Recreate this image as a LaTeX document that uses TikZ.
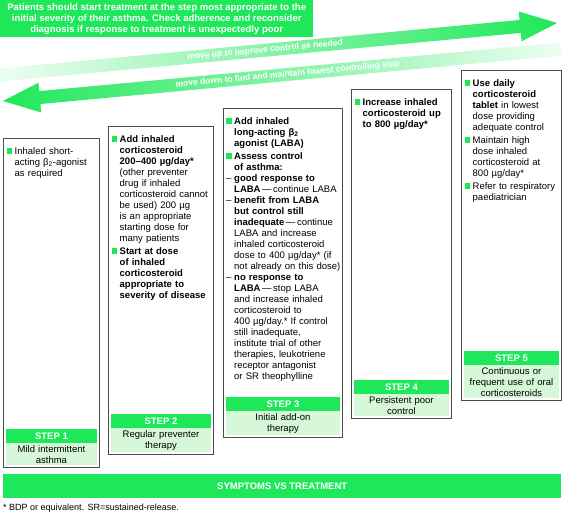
\documentclass[tikz,border=0pt]{standalone}
\usepackage{fontspec}
\setmainfont{Liberation Sans}
\usetikzlibrary{calc}
\definecolor{stepgreen}{RGB}{30,232,90}
\definecolor{palegreen}{RGB}{214,248,216}
\newcommand\bul{\par\noindent\hangindent=8pt\hangafter=1\makebox[8pt][l]{\textcolor{stepgreen}{\rule[0.3pt]{5.5pt}{5.5pt}}}\ignorespaces}
\newcommand\dsh{\par\noindent\hangindent=8pt\hangafter=1\makebox[8pt][l]{–}\ignorespaces}
\newcommand\gap{\par\vspace{2pt}}
\begin{document}
\begin{tikzpicture}[x=1pt,y=-1pt,
stepframe/.style={draw=black!70,line width=0.9pt,anchor=north west,inner sep=0},
steptext/.style={anchor=north west,inner sep=0,align=left,font=\fontsize{9.5}{11}\selectfont},
stepnote/.style={fill=palegreen,anchor=south,inner xsep=0,inner ysep=2pt,align=center,font=\fontsize{9.5}{11}\selectfont},
stepbar/.style={fill=stepgreen,anchor=south,inner sep=0,minimum height=13.5,text=white,font=\fontsize{9.5}{11}\selectfont\bfseries},
arrowtext/.style={inner sep=0,rotate=5.3,text=white,font=\fontsize{8.5}{10}\selectfont\bfseries}]
\useasboundingbox(0,0)rectangle(564,515);
\node[fill=stepgreen,text=white,anchor=north west,minimum width=313,minimum height=37,inner sep=0,align=center,font=\fontsize{9.5}{11}\selectfont\bfseries](A)at(0,0){Patients should start treatment at the step most appropriate to the\\initial severity of their asthma. Check adherence and reconsider\\diagnosis if response to treatment is unexpectedly poor};
\coordinate(Ut)at(0,75);
\coordinate(Uh)at(557,23);
\coordinate(Ub)at($(Uh)!37pt!(Ut)$);
\shade[left color=stepgreen!8,middle color=stepgreen,right color=stepgreen]($(Ut)!6.5pt!90:(Uh)$)--($(Ub)!6.5pt!90:(Uh)$)--($(Ub)!15pt!90:(Uh)$)--(Uh)--($(Ub)!15pt!-90:(Uh)$)--($(Ub)!6.5pt!-90:(Uh)$)--($(Ut)!6.5pt!-90:(Uh)$)--cycle;
\coordinate(Dt)at(561,49);
\coordinate(Dh)at(3,101);
\coordinate(Db)at($(Dh)!37pt!(Dt)$);
\shade[left color=stepgreen,middle color=stepgreen,right color=stepgreen!8]($(Dt)!6.5pt!-90:(Db)$)--($(Db)!6.5pt!90:(Dt)$)--($(Db)!15pt!90:(Dt)$)--(Dh)--($(Db)!15pt!-90:(Dt)$)--($(Db)!6.5pt!-90:(Dt)$)--($(Dt)!6.5pt!90:(Db)$)--cycle;
\node[arrowtext](U)at($(Ut)!0.476!(Uh)$){move up to improve control as needed};
\node[arrowtext](D)at($(Dh)!0.51!(Dt)$){move down to find and maintain lowest controlling step};
\node[stepframe,minimum width=96,minimum height=329](F1)at(3,138){};
\node[stepframe,minimum width=105,minimum height=328](F2)at(108,126){};
\node[stepframe,minimum width=119,minimum height=329](F3)at(223,108){};
\node[stepframe,minimum width=100,minimum height=329](F4)at(351,89){};
\node[stepframe,minimum width=100,minimum height=330](F5)at(461,70){};
\node[stepnote,text width=91](L1)at([yshift=2.5pt]F1.south){Mild intermittent\\asthma};
\node[stepnote,text width=100](L2)at([yshift=2.5pt]F2.south){Regular preventer\\therapy};
\node[stepnote,text width=114](L3)at([yshift=2.5pt]F3.south){Initial add-on\\therapy};
\node[stepnote,text width=95](L4)at([yshift=2.5pt]F4.south){Persistent poor\\control};
\node[stepnote,text width=95](L5)at([yshift=2.5pt]F5.south){Continuous or\\frequent use of oral\\corticosteroids};
\node[stepbar,minimum width=91](S1)at(L1.north){STEP 1};
\node[stepbar,minimum width=100](S2)at(L2.north){STEP 2};
\node[stepbar,minimum width=114](S3)at(L3.north){STEP 3};
\node[stepbar,minimum width=95](S4)at(L4.north){STEP 4};
\node[stepbar,minimum width=95](S5)at(L5.north){STEP 5};
\node[steptext,text width=90](T1)at([shift={(3.5,5)}]F1.north west){\bul Inhaled short-\newline acting β\textsubscript{2}-agonist\newline as required\par};
\node[steptext,text width=100](T2)at([shift={(3.5,5)}]F2.north west){\bul\textbf{Add inhaled\newline corticosteroid\newline 200–400 µg/day*}\newline (other preventer\newline drug if inhaled\newline corticosteroid cannot\newline be used) 200 µg\newline is an appropriate\newline starting dose for\newline many patients\gap
\bul\textbf{Start at dose\newline of inhaled\newline corticosteroid\newline appropriate to\newline severity of disease}\par};
\node[steptext,text width=115](T3)at([shift={(3,5)}]F3.north west){\bul\textbf{Add inhaled\newline long-acting β\textsubscript{2}\newline agonist (LABA)}\gap
\bul\textbf{Assess control\newline of asthma:}
\dsh\textbf{good response to\newline LABA}\,—\,continue LABA
\dsh\textbf{benefit from LABA\newline but control still\newline inadequate}\,—\,continue\newline LABA and increase\newline inhaled corticosteroid\newline dose to 400 µg/day* (if\newline not already on this dose)
\dsh\textbf{no response to\newline LABA}\,—\,stop LABA\newline and increase inhaled\newline corticosteroid to\newline 400 µg/day.* If control\newline still inadequate,\newline institute trial of other\newline therapies, leukotriene\newline receptor antagonist\newline or SR theophylline\par};
\node[steptext,text width=95](T4)at([shift={(3.5,5)}]F4.north west){\bul\textbf{Increase inhaled\newline corticosteroid up\newline to 800 µg/day*}\par};
\node[steptext,text width=95](T5)at([shift={(3.5,5)}]F5.north west){\bul\textbf{Use daily\newline corticosteroid\newline tablet} in lowest\newline dose providing\newline adequate control\gap
\bul Maintain high\newline dose inhaled\newline corticosteroid at\newline 800 µg/day*\gap
\bul Refer to respiratory\newline paediatrician\par};
\node[fill=stepgreen,text=white,anchor=north west,minimum width=558,minimum height=24,inner sep=0,font=\fontsize{9.5}{11}\selectfont\bfseries](R)at(3,474){SYMPTOMS VS TREATMENT};
\node[anchor=west,inner sep=0,font=\fontsize{9}{11}\selectfont](N)at(3,508){* BDP or equivalent. SR=sustained-release.};
\end{tikzpicture}
\end{document}
